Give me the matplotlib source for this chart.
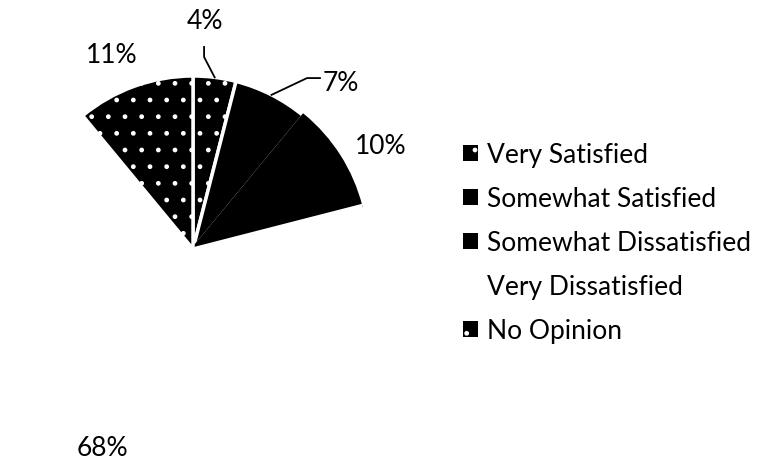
import matplotlib
matplotlib.use("Agg")
import matplotlib.pyplot as plt
from matplotlib.patches import Patch
import numpy as np

plt.rcParams['font.family'] = ['Lato', 'DejaVu Sans']

categories = ['Very Satisfied', 'Somewhat Satisfied', 'Somewhat Dissatisfied',
              'Very Dissatisfied', 'No Opinion']
shares = [4, 7, 10, 68, 11]
fills = ['black', 'black', 'black', 'white', 'black']
edges = ['white', 'white', 'black', 'white', 'white']
hatches = ['.', None, None, None, '.']

# percentage label spots, in pie radii from the centre
label_xy = [(0.069, 1.318), (0.855, 0.965), (1.087, 0.601), (-0.526, -1.145), (-0.468, 1.127)]
# leader lines for the two thin top slices: start near the text, then an elbow
leader_pts = {0: [(0.064, 1.168), (0.064, 1.110)],
              1: [(0.734, 0.988), (0.659, 0.988)]}

fig = plt.figure(figsize=(7.73, 4.60), dpi=100)
W, H = 773, 460
cx, cy, r = 193, 250, 173
ax = fig.add_axes([(cx - r) / W, (H - cy - r) / H, 2 * r / W, 2 * r / H])

wedges, _ = ax.pie(shares, colors=fills, startangle=90, counterclock=False,
                   wedgeprops=dict(linewidth=2.5))
for w, ec, h in zip(wedges, edges, hatches):
    w.set_edgecolor(ec)
    if h:
        w.set_hatch(h)
ax.set_aspect('equal')
ax.set_xlim(-1, 1)
ax.set_ylim(-1, 1)

for i, (w, val) in enumerate(zip(wedges, shares)):
    tx, ty = label_xy[i]
    ax.text(tx, ty, f"{val}%", fontsize=19, ha='center', va='center', clip_on=False)
    if i in leader_pts:
        mid = np.deg2rad((w.theta1 + w.theta2) / 2)
        pts = leader_pts[i] + [(np.cos(mid), np.sin(mid))]
        xs, ys = zip(*pts)
        ax.plot(xs, ys, color='black', lw=1.3, clip_on=False)

# legend swatches without the thick slice outline
handles = [Patch(facecolor=f, edgecolor='white', linewidth=0, hatch=h)
           for f, h in zip(fills, hatches)]
fig.legend(handles, categories, loc='upper left',
           bbox_to_anchor=(463 / W, 1 - 143 / H), frameon=False,
           fontsize=19, handlelength=0.57, handleheight=0.57,
           handletextpad=0.34, labelspacing=0.72, borderpad=0, borderaxespad=0)

fig.savefig('out.png', dpi=100)
